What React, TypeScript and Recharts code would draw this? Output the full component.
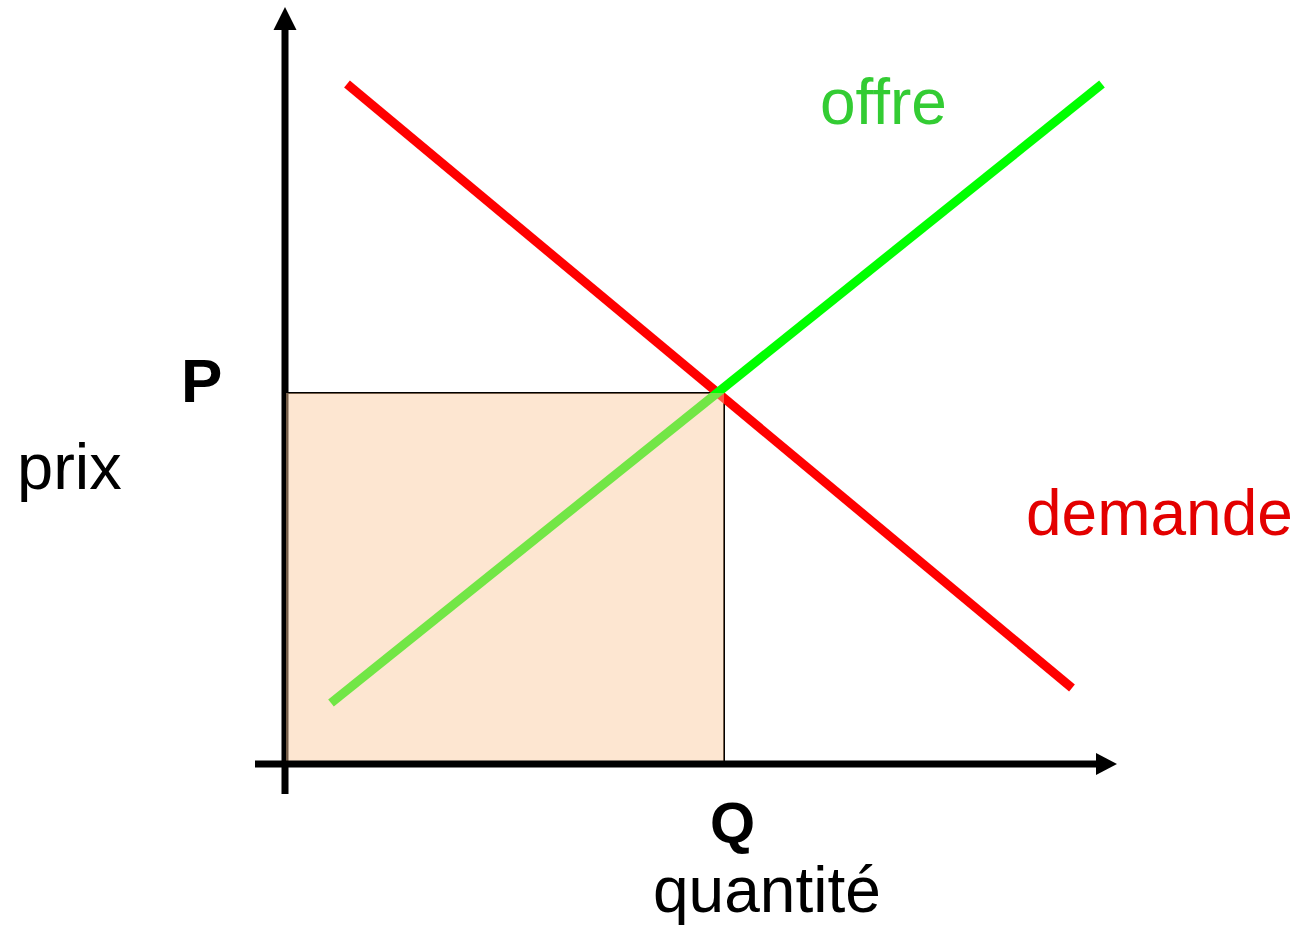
import React from "react";
import {
  ComposedChart,
  Line,
  Area,
  XAxis,
  YAxis,
  ReferenceLine,
  ReferenceDot,
} from "recharts";

// equilibrium point
const P = 37.1;
const Q = 43.8;

const demand = [
  { x: 6.1, y: 68 },
  { x: 78.6, y: 7.6 },
];

const supply = [
  { x: 4.5, y: 6.1 },
  { x: 81.6, y: 68 },
];

const revenue = [
  { x: 0, y: P },
  { x: Q, y: P },
];

const revenueRight = [
  { x: Q, y: 0 },
  { x: Q, y: P },
];

const FONT = "'Liberation Sans', Arial, Helvetica, sans-serif";

const ArrowRight = (props: any) => {
  const { cx, cy } = props;
  return (
    <polygon
      points={`${cx},${cy} ${cx - 21},${cy - 11} ${cx - 21},${cy + 11}`}
      fill="#000"
    />
  );
};

const ArrowUp = (props: any) => {
  const { cx, cy } = props;
  return (
    <polygon
      points={`${cx},${cy} ${cx - 11.5},${cy + 23} ${cx + 11.5},${cy + 23}`}
      fill="#000"
    />
  );
};

export default function App() {
  return (
    <div
      style={{
        position: "absolute",
        left: 0,
        top: 0,
        width: 1313,
        height: 926,
        background: "#fff",
      }}
    >
      <ComposedChart
        width={1313}
        height={926}
        margin={{ top: 4, right: 27, bottom: 112, left: 186 }}
      >
        <XAxis
          type="number"
          dataKey="x"
          domain={[-10, 100]}
          hide
          allowDataOverflow
        />
        <YAxis type="number" domain={[-5, 76]} hide allowDataOverflow />

        {/* vertical axis sits under the shaded box */}
        <ReferenceLine
          segment={[
            { x: -0.1, y: -3 },
            { x: -0.1, y: 74 },
          ]}
          stroke="#000"
          strokeWidth={7}
          ifOverflow="visible"
          zIndex={300}
        />
        <ReferenceDot
          x={-0.1}
          y={75.7}
          r={1}
          shape={ArrowUp}
          ifOverflow="visible"
          zIndex={300}
        />

        <Line
          data={revenue}
          dataKey="y"
          type="linear"
          stroke="#000"
          strokeWidth={2}
          dot={false}
          isAnimationActive={false}
        />
        <Line
          data={revenueRight}
          dataKey="y"
          type="linear"
          stroke="#000"
          strokeWidth={2}
          dot={false}
          isAnimationActive={false}
        />
        <Line
          data={demand}
          dataKey="y"
          type="linear"
          stroke="#ff0000"
          strokeWidth={9}
          dot={false}
          isAnimationActive={false}
        />
        <Line
          data={supply}
          dataKey="y"
          type="linear"
          stroke="#00ff00"
          strokeWidth={9}
          dot={false}
          isAnimationActive={false}
        />
        <Area
          data={revenue}
          dataKey="y"
          type="linear"
          stroke="none"
          fill="rgb(250,200,154)"
          fillOpacity={0.455}
          isAnimationActive={false}
          zIndex={450}
        />

        <ReferenceLine
          segment={[
            { x: -3.1, y: 0 },
            { x: 81.5, y: 0 },
          ]}
          stroke="#000"
          strokeWidth={7}
          ifOverflow="visible"
          zIndex={500}
        />
        <ReferenceDot
          x={83.1}
          y={0}
          r={1}
          shape={ArrowRight}
          ifOverflow="visible"
          zIndex={500}
        />
      </ComposedChart>

      <svg
        width={1313}
        height={926}
        style={{ position: "absolute", left: 0, top: 0, pointerEvents: "none" }}
        fontFamily={FONT}
      >
        <text x={181} y={402} fontSize={62} fontWeight="bold" fill="#000">
          P
        </text>
        <text x={17} y={489} fontSize={65} fill="#000">
          prix
        </text>
        <text x={710} y={843} fontSize={58} fontWeight="bold" fill="#000">
          Q
        </text>
        <text x={653} y={912} fontSize={64} fill="#000">
          quantité
        </text>
        <text x={820} y={124} fontSize={64} fill="#33cc33">
          offre
        </text>
        <text x={1026} y={535} fontSize={64} fill="#e30000">
          demande
        </text>
      </svg>
    </div>
  );
}
